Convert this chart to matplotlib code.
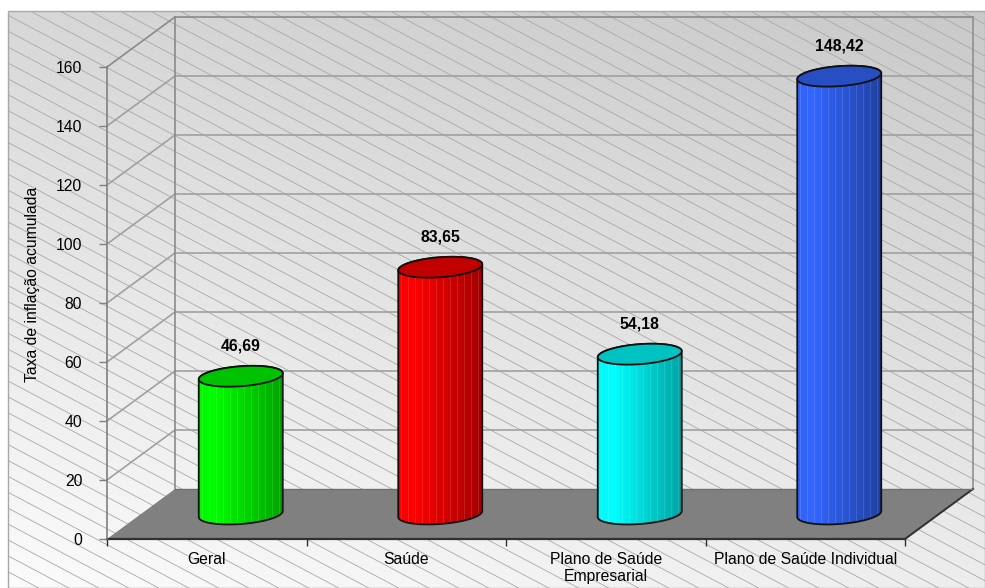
import numpy as np
import matplotlib
matplotlib.use("Agg")
import matplotlib.pyplot as plt
from matplotlib.patches import Polygon, Rectangle
from matplotlib.colors import to_rgb

# ---------------- data ----------------
categories = ["Geral", "Saúde", "Plano de Saúde\nEmpresarial", "Plano de Saúde Individual"]
values = [46.69, 83.65, 54.18, 148.42]
bar_colors = ["#00ff00", "#ff0000", "#00ffff", "#3366ff"]
yticks = [0, 20, 40, 60, 80, 100, 120, 140, 160]
ylabel = "Taxa de inflação acumulada"

plt.rcParams["font.family"] = ["Liberation Sans", "DejaVu Sans"]
FS = 11.3

W, H = 985, 588
fig = plt.figure(figsize=(W / 100, H / 100), dpi=100)

# ---------------- background (chart area) ----------------
bg = fig.add_axes([0, 0, 1, 1])
bg.axis("off")
yy, xx = np.mgrid[0:1:100j, 0:1:100j]
v = 0.845 - 0.055 * xx + 0.14 * yy
bg.imshow(np.dstack([v, v, v]), extent=[8, W, H, 11], aspect="auto",
          interpolation="bilinear", zorder=0)
bg.set_xlim(0, W)
bg.set_ylim(H, 0)
clip_rect = Rectangle((8, 11), W - 8, H - 11, transform=bg.transData, fill=False)
slope = 0.53
for c in np.arange(-1110, W, 30):
    ln, = bg.plot([c, c + (H - 11) / slope], [11, H], color="#a8a8a8", lw=0.6, zorder=1)
    ln.set_clip_path(clip_rect)
bg.add_patch(Rectangle((8, 11), W - 8, H - 11, fill=False, ec="#a8a8a8", lw=1, zorder=2))

# ---------------- main axes (front plane) ----------------
L, R, T, B = 107, 905, 67, 539
ax = fig.add_axes([L / W, 1 - B / H, (R - L) / W, (B - T) / H])
ax.patch.set_visible(False)
n = len(categories)
ax.set_xlim(-0.5, n - 0.5)
ax.set_ylim(0, yticks[-1])
px_x = (R - L) / n
px_y = (B - T) / yticks[-1]
DX = 68 / px_x     # depth offset in x data units
DY = 50 / px_y     # depth offset in y data units
x0, x1 = -0.5, n - 0.5
ymax = yticks[-1]

# floor
ax.add_patch(Polygon([(x0, 0), (x1, 0), (x1 + DX, DY), (x0 + DX, DY)],
                     closed=True, fc="#808080", ec="none", zorder=1, clip_on=False))
ax.plot([x1, x1 + DX], [0, DY], color="#303030", lw=1.4, clip_on=False, zorder=2)
ax.plot([x0 + DX, x1 + DX], [DY, DY], color="#707070", lw=1.0, clip_on=False, zorder=2)

# back wall & side wall gridlines
for yv in yticks[1:]:
    col = "#8a8a8a" if yv == ymax else "#a0a0a0"
    ax.plot([x0 + DX, x1 + DX], [yv + DY, yv + DY], color=col, lw=1.2, clip_on=False, zorder=1)
    ax.plot([x0, x0 + DX], [yv, yv + DY], color=col, lw=1.2, clip_on=False, zorder=1)
ax.plot([x0 + DX, x0 + DX], [DY, ymax + DY], color="#8a8a8a", lw=1.2, clip_on=False, zorder=1)
ax.plot([x1 + DX, x1 + DX], [DY, ymax + DY], color="#909090", lw=1.2, clip_on=False, zorder=1)

# cylinders
A = 42 / px_x        # half width (category units)
Bm = 10.0 / px_y     # semi-minor (y units)
K = 3.0 / px_y       # perspective shear (y units)


def ell(cx, cy, t):
    return np.column_stack([cx + A * np.cos(t), cy + Bm * np.sin(t) + K * np.cos(t)])


for i, (val, colr) in enumerate(zip(values, bar_colors)):
    cx = i + DX / 2
    cy0 = DY / 2
    cy1 = val + DY / 2
    tb = np.linspace(np.pi, 2 * np.pi, 60)
    tt = np.linspace(0, np.pi, 60)
    sil = np.vstack([ell(cx, cy0, tb), ell(cx, cy1, tt)])
    sil_patch = Polygon(sil, closed=True, fc="none", ec="none", transform=ax.transData)
    ax.add_patch(sil_patch)
    base = np.array(to_rgb(colr))
    t = np.linspace(0, 1, 84)
    f = np.interp(t, [0, 0.18, 1], [0.97, 1.0, 0.64])
    cols = base[None, :] * f[:, None]
    stripe = (np.arange(84) % 7 == 3)
    cols[stripe] = cols[stripe] + (1 - cols[stripe]) * 0.12
    im = ax.imshow(cols[None, :, :], extent=[cx - A, cx + A, cy0 - Bm - K - 1, cy1 + K + 1],
                   aspect="auto", interpolation="nearest", zorder=3, origin="lower")
    im.set_clip_path(sil_patch)
    ax.add_patch(Polygon(sil, closed=True, fc="none", ec="#101010", lw=1.3, zorder=4, clip_on=False))
    top = ell(cx, cy1, np.linspace(0, 2 * np.pi, 120))
    ax.add_patch(Polygon(top, closed=True, fc=tuple(base * 0.76), ec="#101010", lw=1.3,
                         zorder=5, clip_on=False))
    ax.annotate(f"{val:.2f}".replace(".", ","), xy=(cx, cy1), xytext=(0, 22),
                textcoords="offset points", ha="center", va="center", fontsize=FS,
                fontweight="bold", annotation_clip=False, zorder=6)

ax.set_xlim(-0.5, n - 0.5)
ax.set_ylim(0, ymax)

# axes decoration
for s in ["top", "right"]:
    ax.spines[s].set_visible(False)
ax.spines["left"].set_color("#808080")
ax.spines["left"].set_linewidth(1.2)
ax.spines["bottom"].set_color("#303030")
ax.spines["bottom"].set_linewidth(1.6)
ax.spines["bottom"].set_zorder(2)

ax.set_yticks(yticks)
ax.set_yticklabels([str(y) for y in yticks])
ax.tick_params(axis="y", length=5.8, width=1, color="#808080", pad=12, labelsize=FS)
ax.set_xticks(np.arange(-0.5, n, 1))
ax.set_xticklabels([])
ax.tick_params(axis="x", which="major", length=5, width=1, color="#303030")
ax.set_xticks(np.arange(n), minor=True)
ax.set_xticklabels(categories, minor=True)
ax.tick_params(axis="x", which="minor", length=0, pad=9, labelsize=FS)

ax.set_ylabel(ylabel, fontsize=FS)
ax.yaxis.set_label_coords((40 - L) / (R - L), (B - 284) / (B - T))

fig.savefig("out.png", dpi=100)
